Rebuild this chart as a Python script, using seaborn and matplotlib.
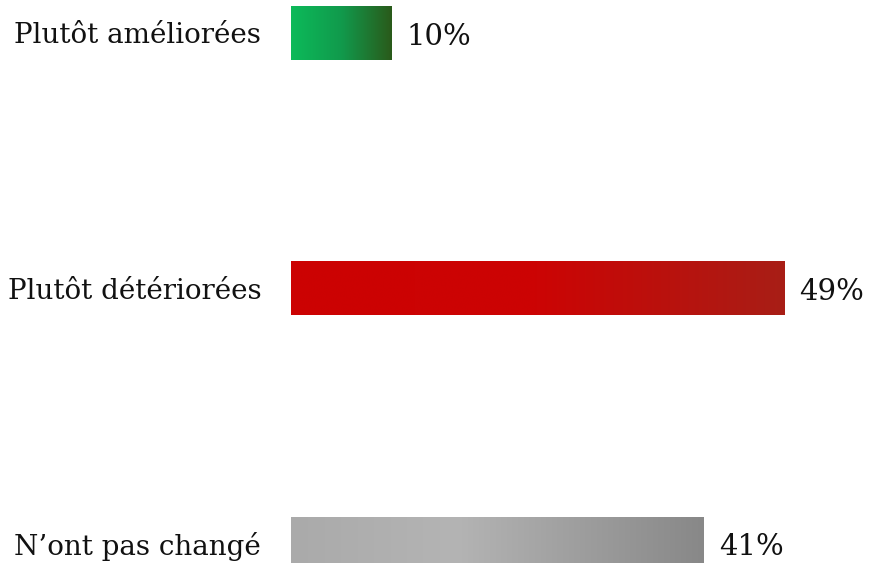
import numpy as np
import pandas as pd
import matplotlib
matplotlib.use("Agg")
import matplotlib.pyplot as plt
from matplotlib.colors import LinearSegmentedColormap
import seaborn as sns

categories = ["Plutôt améliorées", "Plutôt détériorées", "N\u2019ont pas changé"]
values = [10, 49, 41]
value_labels = ["10%", "49%", "41%"]

# gradient stops for each bar (left -> right)
gradients = [
    [(0.0, "#0cba5a"), (0.5, "#119a4c"), (1.0, "#2a5a1a")],
    [(0.0, "#cc0202"), (0.5, "#cc0404"), (1.0, "#a81e16")],
    [(0.0, "#aaaaaa"), (0.4, "#b4b4b4"), (1.0, "#888888")],
]

df = pd.DataFrame({"category": categories, "value": values})

sns.set_theme(style="white")
plt.rcParams["font.family"] = ["DejaVu Serif"]

fig = plt.figure(figsize=(8.7, 5.63), dpi=100)
ax = fig.add_axes([291 / 870, 0, 1 - 291 / 870, 1])

sns.barplot(data=df, x="value", y="category", orient="h", width=0.21,
            color="#cccccc", ax=ax)

# overlay gradients clipped to each bar
for patch, stops in zip(ax.patches, gradients):
    x0, y0 = patch.get_x(), patch.get_y()
    w, h = patch.get_width(), patch.get_height()
    cmap = LinearSegmentedColormap.from_list("g", stops)
    grad = np.linspace(0, 1, 256).reshape(1, -1)
    im = ax.imshow(grad, cmap=cmap, aspect="auto", interpolation="bicubic",
                   extent=(x0, x0 + w, y0 + h, y0), zorder=patch.get_zorder() + 0.1)
    im.set_clip_path(patch)
    patch.set_edgecolor("none")

ax.set_xlim(0, 57.5)
ax.set_ylim(2.076, -0.129)

for i, (v, lab) in enumerate(zip(values, value_labels)):
    ax.text(v + 1.5, i + 0.015, lab, va="center", ha="left", fontsize=21, color="#111111")

ax.set_xlabel("")
ax.set_ylabel("")
ax.set_xticks([])
ax.tick_params(axis="y", length=0, pad=21.5, labelsize=20, labelcolor="#111111")
sns.despine(ax=ax, left=True, bottom=True)

fig.savefig("out.png", dpi=100)
